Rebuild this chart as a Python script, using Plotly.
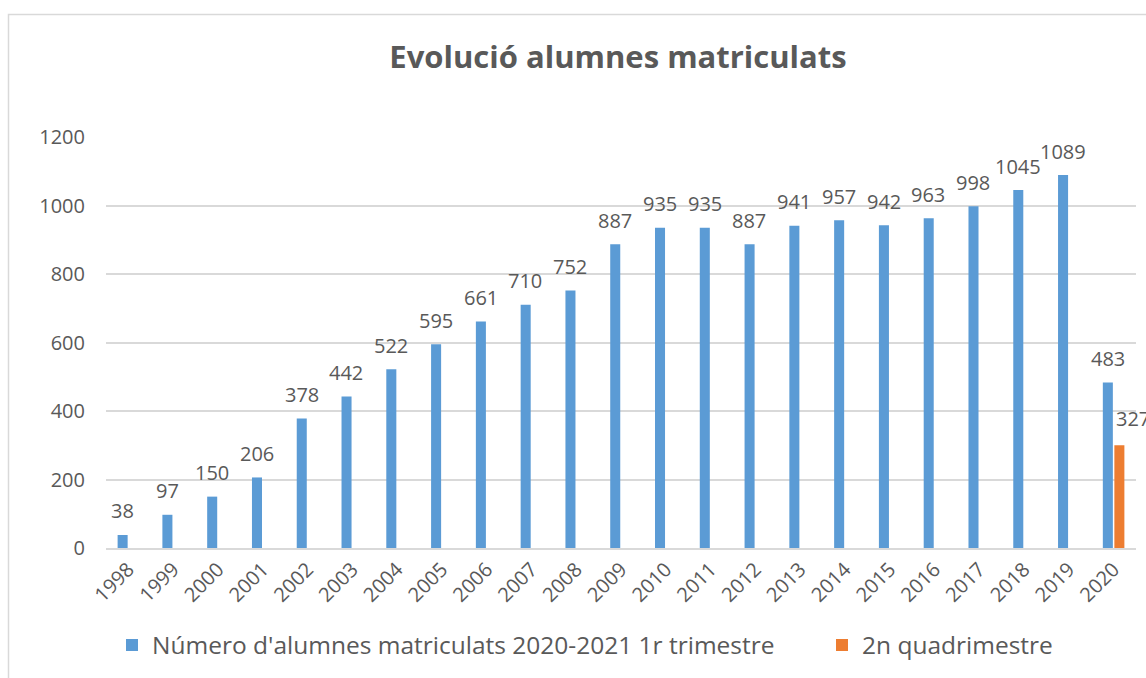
import plotly.graph_objects as go

# ---- data ----
years = ["1998", "1999", "2000", "2001", "2002", "2003", "2004", "2005", "2006",
         "2007", "2008", "2009", "2010", "2011", "2012", "2013", "2014", "2015",
         "2016", "2017", "2018", "2019", "2020"]
alumnes = [38, 97, 150, 206, 378, 442, 522, 595, 661, 710, 752, 887, 935, 935,
           887, 941, 957, 942, 963, 998, 1045, 1089, 483]
quad_years = ["2020"]
quad_values = [300]
quad_labels = ["327"]
y_ticks = [0, 200, 400, 600, 800, 1000, 1200]

name_blue = "Número d'alumnes matriculats 2020-2021 1r trimestre"
name_orange = "2n quadrimestre"
title_text = "Evolució alumnes matriculats"

BLUE = "#5B9BD5"
ORANGE = "#ED7D31"
TXT = "#595959"
GRID = "#D9D9D9"
FONT = "Open Sans"

W, H = 1146, 678
L, R, T, B = 106, 10, 137, 130
PW, PH = W - L - R, H - T - B

fig = go.Figure()
fig.add_trace(go.Bar(x=years, y=alumnes, name=name_blue, marker_color=BLUE,
                     marker_line_width=0, legend="legend"))
fig.add_trace(go.Bar(x=quad_years, y=quad_values, name=name_orange,
                     marker_color=ORANGE, marker_line_width=0, legend="legend2"))

annotations = []
for yr, v in zip(years, alumnes):
    annotations.append(dict(x=years.index(yr), y=v, text=str(v), showarrow=False,
                            xref="x", yref="y", xshift=-6, yshift=24,
                            font=dict(size=20, color=TXT, family=FONT)))
for yr, v, lab in zip(quad_years, quad_values, quad_labels):
    annotations.append(dict(x=years.index(yr), y=float(lab), text=lab, showarrow=False,
                            xref="x", yref="y", xshift=19, yshift=18,
                            font=dict(size=20, color=TXT, family=FONT)))

leg_common = dict(orientation="h", xanchor="left", yanchor="middle",
                  font=dict(size=24.5, color=TXT, family=FONT), bgcolor="rgba(0,0,0,0)")
fig.update_layout(
    width=W, height=H,
    paper_bgcolor="white", plot_bgcolor="white",
    margin=dict(l=L, r=R, t=T, b=B, autoexpand=False),
    barmode="group", bargap=0.485, bargroupgap=0.13,
    font=dict(family=FONT, color=TXT, size=20),
    title=dict(text="<b>" + title_text + "</b>", x=618 / W, xanchor="center",
               xref="container", y=1 - 57 / H, yref="container", yanchor="middle",
               font=dict(size=31, color=TXT, family=FONT)),
    showlegend=True,
    legend=dict(x=6 / PW, y=(T + PH - 645) / PH, **leg_common),
    legend2=dict(x=(822 - L) / PW, y=(T + PH - 645) / PH, **leg_common),
    annotations=annotations,
    shapes=[dict(type="rect", xref="paper", yref="paper",
                 x0=(8.5 - L) / PW, x1=1.2, y0=-0.5, y1=(T + PH - 14.5) / PH,
                 line=dict(color=GRID, width=1.5), fillcolor="rgba(0,0,0,0)", layer="below")],
)
fig.update_xaxes(type="category", range=[-0.5, len(years) - 0.5], tickangle=-45,
                 showgrid=False, showline=True, linecolor=GRID, linewidth=1.5, ticks="",
                 tickfont=dict(size=20, color=TXT, family=FONT))
fig.update_yaxes(range=[0, 1200], tickvals=y_ticks, showgrid=True, gridcolor=GRID,
                 gridwidth=1.5, zeroline=False, showline=False, ticks="",
                 ticklabelstandoff=20, tickfont=dict(size=20, color=TXT, family=FONT))

fig.write_html("out.html", config={"displayModeBar": False},
               post_script="document.body.style.margin='0';")
